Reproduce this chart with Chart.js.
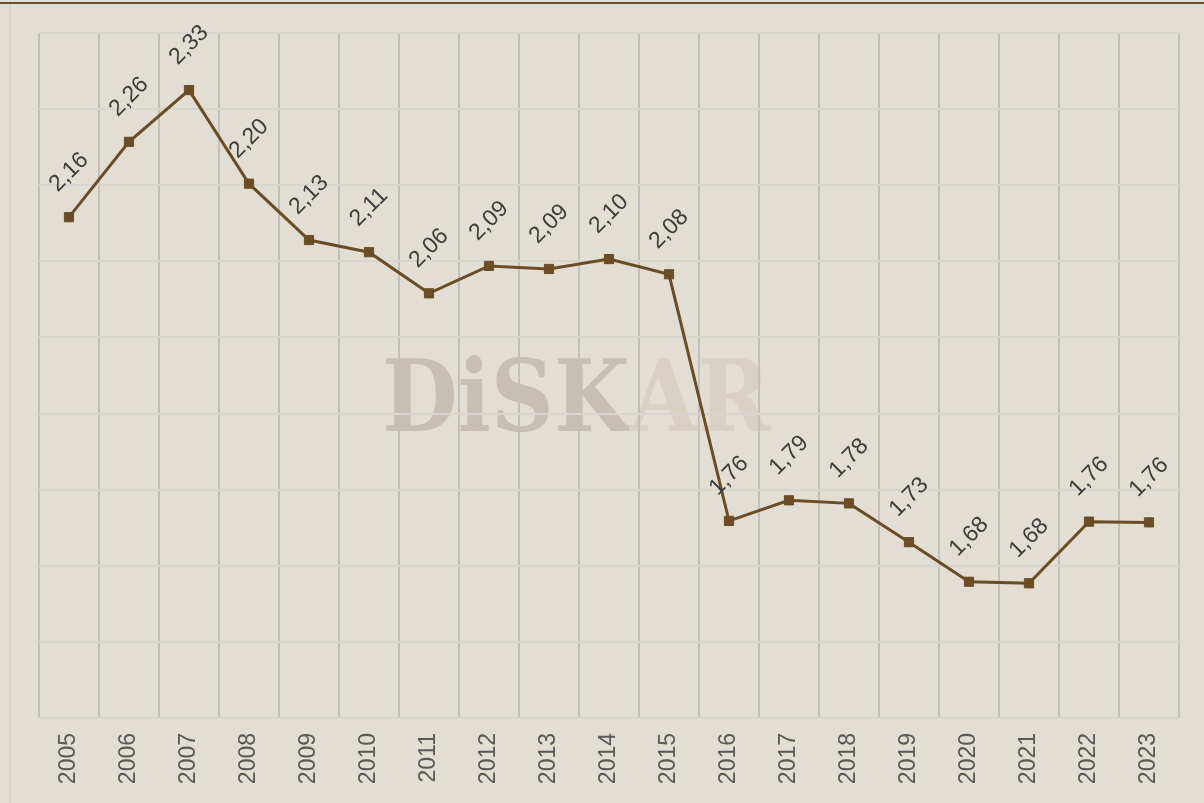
<!DOCTYPE html>
<html>
<head>
<meta charset="utf-8">
<script src="https://cdn.jsdelivr.net/npm/chart.js@4"></script>
<style>
  html, body { margin: 0; padding: 0; background: #e3ded4; }
  #wrap { position: relative; width: 1204px; height: 803px; overflow: hidden; }
  #topLine { position: absolute; left: 0; top: 2px; width: 1204px; height: 2px; background: #6b4f2b; }
  #leftLine { position: absolute; left: 9px; top: 4px; width: 2px; height: 799px; background: #d6d3cd; }
  #chartBox { position: absolute; left: 0; top: 0; width: 1204px; height: 803px; }
</style>
</head>
<body>
<div id="wrap">
  <div id="topLine"></div>
  <div id="leftLine"></div>
  <div id="chartBox"><canvas id="chart"></canvas></div>
</div>
<script>
// years on the x axis
const years = ["2005", "2006", "2007", "2008", "2009", "2010", "2011", "2012", "2013", "2014",
  "2015", "2016", "2017", "2018", "2019", "2020", "2021", "2022", "2023"];

// values
const values = [2.158, 2.257, 2.325, 2.202, 2.128, 2.112, 2.058, 2.094, 2.090, 2.103,
  2.083, 1.759, 1.786, 1.782, 1.731, 1.679, 1.677, 1.758, 1.757];

const yMin = 1.5;
const yMax = 2.4;
const yStep = 0.1;

const lineColor = "#6b4c24";
const fontFamily = "'Liberation Sans', Arial, sans-serif";

// watermark behind the grid
const watermark = {
  id: "watermark",
  beforeDraw(chart) {
    const ctx = chart.ctx;
    ctx.save();
    ctx.font = "bold 100px 'DejaVu Serif'";
    ctx.textBaseline = "alphabetic";
    const partA = "DiSK";
    const partB = "AR";
    const wA = ctx.measureText(partA).width;
    const wB = ctx.measureText(partB).width;
    const scaleX = 388 / (wA + wB);
    ctx.translate(382, 431);
    ctx.scale(scaleX, 1);
    ctx.fillStyle = "#c6bfb2";
    ctx.fillText(partA, 0, 0);
    ctx.fillStyle = "#d9d2c4";
    ctx.fillText(partB, wA, 0);
    ctx.restore();
  }
};

// rotated value labels above each point
const valueLabels = {
  id: "valueLabels",
  afterDatasetsDraw(chart) {
    const ctx = chart.ctx;
    const meta = chart.getDatasetMeta(0);
    ctx.save();
    ctx.font = "23px " + fontFamily;
    ctx.fillStyle = "#3d3d3d";
    ctx.textAlign = "center";
    ctx.textBaseline = "middle";
    meta.data.forEach((pt, i) => {
      const txt = values[i].toFixed(2).replace(".", ",");
      ctx.save();
      ctx.translate(pt.x, pt.y - 45);
      ctx.rotate(-Math.PI / 4);
      ctx.fillText(txt, 0, 0);
      ctx.restore();
    });
    ctx.restore();
  }
};

new Chart(document.getElementById("chart"), {
  type: "line",
  data: {
    labels: years,
    datasets: [{
      data: values,
      borderColor: lineColor,
      backgroundColor: lineColor,
      borderWidth: 3,
      pointStyle: "rect",
      pointRadius: 6.5,
      pointBorderWidth: 1,
      pointBorderColor: lineColor,
      pointBackgroundColor: lineColor,
      tension: 0
    }]
  },
  options: {
    responsive: true,
    maintainAspectRatio: false,
    animation: false,
    layout: { padding: { left: 39, right: 25, top: 33, bottom: 0 } },
    plugins: {
      legend: { display: false },
      tooltip: { enabled: false }
    },
    scales: {
      x: {
        offset: true,
        grid: { offset: true, color: "#c2c0bc", lineWidth: 2, drawTicks: false },
        border: { display: false },
        ticks: {
          color: "#595959",
          font: { family: fontFamily, size: 23 },
          minRotation: 90,
          maxRotation: 90,
          padding: 15
        },
        afterFit: s => { s.height = 85; }
      },
      y: {
        min: yMin,
        max: yMax,
        ticks: { display: false, stepSize: yStep },
        grid: { color: "#d8d5d0", lineWidth: 2, drawTicks: false },
        border: { display: false },
        afterFit: s => { s.width = 0; }
      }
    }
  },
  plugins: [watermark, valueLabels]
});
</script>
</body>
</html>
